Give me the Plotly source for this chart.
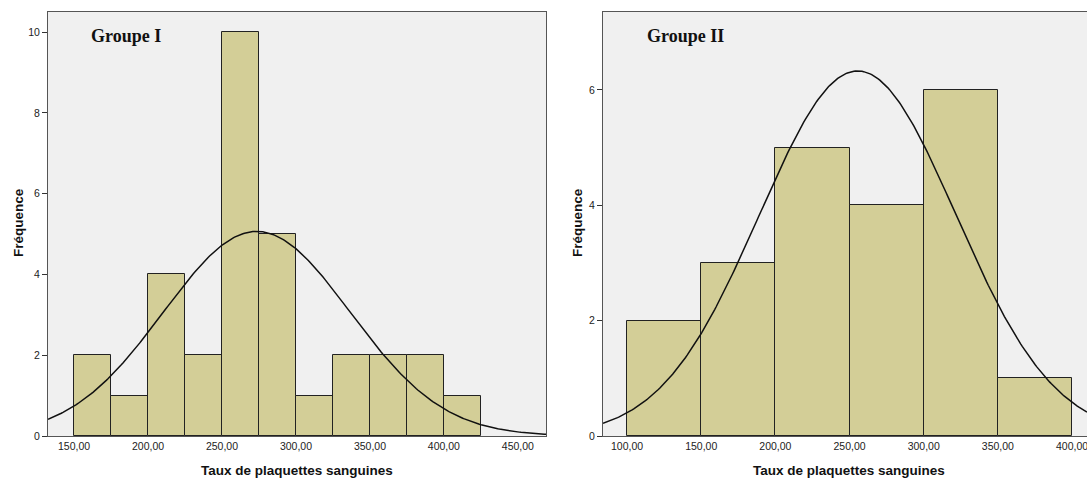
import numpy as np
import plotly.graph_objects as go

# ---- data ----
g1_edges = [150, 175, 200, 225, 250, 275, 300, 325, 350, 375, 400, 425]
g1_counts = [2, 1, 4, 2, 10, 5, 1, 2, 2, 2, 1]
g1_mean, g1_sd = 273.5, 63.0

g2_edges = [100, 150, 200, 250, 300, 350, 400]
g2_counts = [2, 3, 5, 4, 6, 1]
g2_mean, g2_sd = 255.5, 66.2

g1_xticks = [150, 200, 250, 300, 350, 400, 450]
g1_xticklabels = ["150,00", "200,00", "250,00", "300,00", "350,00", "400,00", "450,00"]
g2_xticks = [100, 150, 200, 250, 300, 350, 400]
g2_xticklabels = ["100,00", "150,00", "200,00", "250,00", "300,00", "350,00", "400,00"]
g1_yticks = [0, 2, 4, 6, 8, 10]
g2_yticks = [0, 2, 4, 6]

titles = ["Groupe I", "Groupe II"]
xtitle = "Taux de plaquettes sanguines"
ytitle = "Fréquence"

BAR = "#D3CE97"
BG = "#F0F0F0"

fig = go.Figure()

def add_group(edges, counts, mean, sd, xr, xa, ya):
    edges = np.array(edges, float)
    centers = (edges[:-1] + edges[1:]) / 2
    widths = np.diff(edges)
    fig.add_trace(go.Bar(x=centers, y=counts, width=widths, xaxis=xa, yaxis=ya,
                         marker=dict(color=BAR, line=dict(color="#222222", width=1)),
                         showlegend=False, hoverinfo="skip"))
    n = sum(counts)
    bw = widths[0]
    xs = np.linspace(xr[0], xr[1], 300)
    ys = n * bw / (sd * np.sqrt(2 * np.pi)) * np.exp(-(xs - mean) ** 2 / (2 * sd ** 2))
    fig.add_trace(go.Scatter(x=xs, y=ys, mode="lines", xaxis=xa, yaxis=ya,
                             line=dict(color="#111111", width=1.5),
                             showlegend=False, hoverinfo="skip"))

g1_xr = [132.4, 469]
g2_xr = [83.8, 410.1]
add_group(g1_edges, g1_counts, g1_mean, g1_sd, g1_xr, "x", "y")
add_group(g2_edges, g2_counts, g2_mean, g2_sd, g2_xr, "x2", "y2")

W, H = 1087, 481
tickfont = dict(family="Arial, Liberation Sans, sans-serif", size=10.5, color="#222222")
axline = dict(showline=True, linecolor="#555555", linewidth=1, showgrid=False, zeroline=False)

fig.update_layout(
    width=W, height=H,
    margin=dict(l=0, r=0, t=12, b=45),
    paper_bgcolor="white",
    plot_bgcolor=BG,
    bargap=0,
    xaxis=dict(domain=[48 / W, 546 / W], range=g1_xr, tickvals=g1_xticks, ticktext=g1_xticklabels,
               ticks="", tickfont=tickfont, mirror=True, anchor="y", **axline),
    yaxis=dict(domain=[0, 1], range=[0, 10.5], tickvals=g1_yticks, ticks="outside", ticklen=5,
               tickcolor="#333333", tickfont=tickfont, mirror=True, anchor="x", **axline),
    xaxis2=dict(domain=[603 / W, 1.0], range=g2_xr, tickvals=g2_xticks, ticktext=g2_xticklabels,
                ticks="", tickfont=tickfont, mirror=True, anchor="y2", ticklabeloverflow="allow",
                **axline),
    yaxis2=dict(domain=[0, 1], range=[0, 7.35], tickvals=g2_yticks, ticks="outside", ticklen=5,
                tickcolor="#333333", tickfont=tickfont, mirror=False, anchor="x2", **axline),
)

annots = []
for i, (cx, tx, yx) in enumerate([(297, 89, 18), (849, 645, 577)]):
    annots.append(dict(text=f"<b>{titles[i]}</b>", xref="paper", yref="paper",
                       x=tx / W, y=1 - (36 - 12) / (H - 57), xanchor="left", yanchor="middle",
                       showarrow=False,
                       font=dict(family="Liberation Serif, Times New Roman, serif", size=18, color="#111111")))
    annots.append(dict(text=f"<b>{xtitle}</b>", xref="paper", yref="paper",
                       x=cx / W, y=-(470 - 436) / (H - 57), xanchor="center", yanchor="middle",
                       showarrow=False,
                       font=dict(family="Arial, Liberation Sans, sans-serif", size=13.5, color="#111111")))
    annots.append(dict(text=f"<b>{ytitle}</b>", xref="paper", yref="paper", textangle=-90,
                       x=yx / W, y=1 - (223 - 12) / (H - 57), xanchor="center", yanchor="middle",
                       showarrow=False,
                       font=dict(family="Arial, Liberation Sans, sans-serif", size=13.5, color="#111111")))
fig.update_layout(annotations=annots)

fig.write_html("out.html")
